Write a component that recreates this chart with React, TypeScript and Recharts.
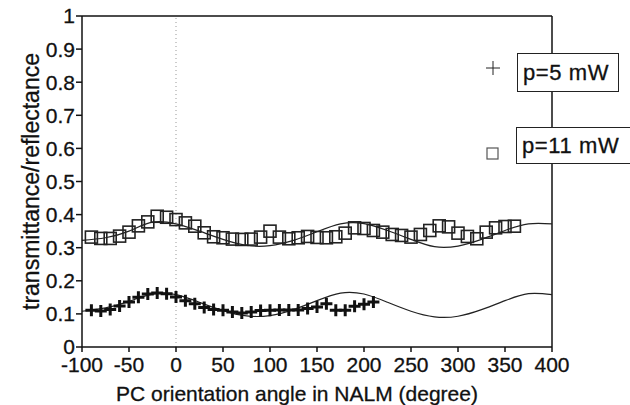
import { ComposedChart, Line, ReferenceLine, Scatter, XAxis, YAxis } from "recharts"

// measured points, p = 11 mW (squares)
const angles11 = [
  -90, -80, -70, -60, -50, -40, -30, -20, -10, 0, 10, 20, 30, 40, 50, 60, 70, 80, 90, 100, 110, 120, 130, 140, 150,
  160, 170, 180, 190, 200, 210, 220, 230, 240, 250, 260, 270, 280, 290, 300, 310, 320, 330, 340, 350, 360,
]
const values11 = [
  0.332, 0.328, 0.328, 0.335, 0.347, 0.366, 0.378, 0.395, 0.392, 0.385, 0.375, 0.365, 0.345, 0.333, 0.33, 0.326, 0.325,
  0.326, 0.332, 0.35, 0.332, 0.327, 0.33, 0.334, 0.331, 0.33, 0.333, 0.344, 0.36, 0.358, 0.352, 0.347, 0.34, 0.337,
  0.332, 0.34, 0.352, 0.366, 0.363, 0.344, 0.334, 0.327, 0.347, 0.36, 0.364, 0.365,
]

// measured points, p = 5 mW (crosses)
const angles5 = [
  -90, -80, -70, -60, -50, -40, -30, -20, -10, 0, 10, 20, 30, 40, 50, 60, 70, 80, 90, 100, 110, 120, 130, 140, 150,
  160, 170, 180, 190, 200, 210,
]
const values5 = [
  0.111, 0.109, 0.113, 0.124, 0.136, 0.15, 0.16, 0.163, 0.161, 0.151, 0.14, 0.131, 0.119, 0.113, 0.111, 0.106, 0.103,
  0.106, 0.11, 0.111, 0.112, 0.112, 0.112, 0.116, 0.121, 0.131, 0.111, 0.111, 0.123, 0.129, 0.136,
]

// fitted curves
const fitAngles = [
  -100, -75, -50, -25, 0, 25, 50, 75, 100, 125, 150, 175, 200, 225, 250, 275, 300, 325, 350, 375, 400,
]
const fit11 = [
  0.322, 0.33, 0.35, 0.377, 0.372, 0.35, 0.325, 0.307, 0.306, 0.322, 0.348, 0.372, 0.373, 0.352, 0.325, 0.303, 0.305,
  0.325, 0.352, 0.372, 0.372,
]
const fit5 = [
  0.108, 0.118, 0.138, 0.16, 0.158, 0.135, 0.11, 0.094, 0.095, 0.113, 0.14, 0.163, 0.16, 0.135, 0.108, 0.091, 0.093,
  0.113, 0.14, 0.161, 0.158,
]

const xTicks = [-100, -50, 0, 50, 100, 150, 200, 250, 300, 350, 400]
const yTicks = [0, 0.1, 0.2, 0.3, 0.4, 0.5, 0.6, 0.7, 0.8, 0.9, 1]

const points11 = angles11.map((x, i) => ({ x, y: values11[i] }))
const points5 = angles5.map((x, i) => ({ x, y: values5[i] }))
const curve11 = fitAngles.map((x, i) => ({ x, y: fit11[i] }))
const curve5 = fitAngles.map((x, i) => ({ x, y: fit5[i] }))

const font = '"Liberation Sans", Arial, sans-serif'
const tickStyle = { fontSize: 21, fill: "#111", fontFamily: font, stroke: "#111", strokeWidth: 0.3 }

const Cross = (props: any) => {
  const { cx, cy } = props
  return <path d={`M${cx - 6},${cy}H${cx + 6}M${cx},${cy - 6}V${cy + 6}`} stroke="#111" strokeWidth={3} fill="none" />
}

const Square = (props: any) => {
  const { cx, cy } = props
  return <rect x={cx - 6} y={cy - 6} width={12} height={12} fill="none" stroke="#222" strokeWidth={1.6} />
}

export default function App() {
  return (
    <div
      style={{
        position: "absolute",
        left: 0,
        top: 0,
        width: 630,
        height: 405,
        overflow: "hidden",
        background: "#fff",
        fontFamily: font,
      }}
    >
      <ComposedChart width={630} height={405} margin={{ top: 16, right: 78, left: 0, bottom: 0 }}>
        <XAxis
          type="number"
          dataKey="x"
          domain={[-100, 400]}
          ticks={xTicks}
          tick={tickStyle}
          tickSize={5}
          tickMargin={5}
          height={58}
          stroke="#111"
          strokeWidth={1.5}
          label={{
            value: "PC orientation angle in NALM (degree)",
            position: "insideBottom",
            offset: 4,
            dx: -20,
            style: { fontSize: 21, fill: "#111", fontFamily: font, stroke: "#111", strokeWidth: 0.3 },
          }}
        />
        <YAxis
          type="number"
          dataKey="y"
          domain={[0, 1]}
          ticks={yTicks}
          tick={tickStyle}
          tickSize={6}
          tickMargin={1}
          width={82}
          stroke="#111"
          strokeWidth={1.5}
          label={{
            value: "transmittance/reflectance",
            angle: -90,
            position: "insideLeft",
            offset: 31,
            style: {
              fontSize: 23,
              fill: "#111",
              fontFamily: font,
              textAnchor: "middle",
              stroke: "#111",
              strokeWidth: 0.3,
            },
          }}
        />
        <ReferenceLine x={0} stroke="#999" strokeDasharray="1 3" />
        <ReferenceLine y={1} stroke="#111" strokeWidth={1.5} />
        <ReferenceLine x={400} stroke="#111" strokeWidth={1.5} />
        <Line
          data={curve11}
          dataKey="y"
          type="natural"
          stroke="#222"
          strokeWidth={1.2}
          dot={false}
          isAnimationActive={false}
        />
        <Line
          data={curve5}
          dataKey="y"
          type="natural"
          stroke="#222"
          strokeWidth={1.2}
          dot={false}
          isAnimationActive={false}
        />
        <Scatter data={points11} dataKey="y" shape={Square} isAnimationActive={false} />
        <Scatter data={points5} dataKey="y" shape={Cross} isAnimationActive={false} />
      </ComposedChart>

      <svg style={{ position: "absolute", left: 480, top: 55 }} width={30} height={110}>
        <path d="M6,13H20M13,6V20" stroke="#222" strokeWidth={1} />
        <rect x={7} y={93} width={11} height={11} fill="#fff" stroke="#555" strokeWidth={1.2} />
      </svg>
      <div
        style={{
          position: "absolute",
          left: 517,
          top: 53,
          width: 95,
          height: 37,
          border: "1.5px solid #222",
          background: "#fff",
          fontSize: 22,
          letterSpacing: 0.6,
          lineHeight: "37px",
          paddingLeft: 5,
          color: "#111",
          WebkitTextStroke: "0.3px #111",
        }}
      >
        p=5 mW
      </div>
      <div
        style={{
          position: "absolute",
          left: 516,
          top: 127,
          width: 125,
          height: 35,
          border: "1.5px solid #222",
          background: "#fff",
          fontSize: 22,
          letterSpacing: 0.6,
          lineHeight: "35px",
          paddingLeft: 5,
          color: "#111",
          WebkitTextStroke: "0.3px #111",
        }}
      >
        p=11 mW
      </div>
    </div>
  )
}
